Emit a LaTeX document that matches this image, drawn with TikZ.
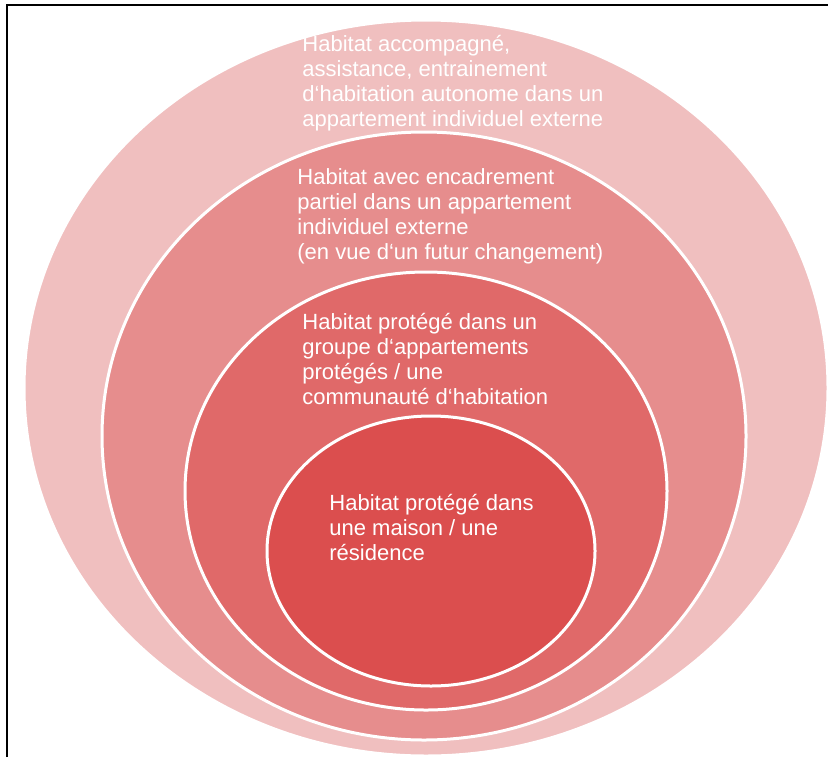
\documentclass[tikz,border=0pt]{standalone}
\usepackage{fontspec}
\usepackage{tikz}
\usepackage{xcolor}
\setmainfont{Liberation Sans}
\usetikzlibrary{positioning}

\definecolor{ringA}{RGB}{240,191,191}
\definecolor{ringB}{RGB}{230,141,141}
\definecolor{ringC}{RGB}{224,105,105}
\definecolor{ringD}{RGB}{219,78,78}

\begin{document}
\begin{tikzpicture}[x=0.5pt, y=0.5pt,
		ring/.style={draw=white, line width=1.5pt},
		ringtext/.style={anchor=base west, align=left, inner sep=0pt, text=white,
			font=\fontsize{11}{12.35}\selectfont}]
				\useasboundingbox (0, 0) rectangle (828, 757);
				\clip (0, 0) rectangle (828, 757);
				
				\begin{scope}[draw]
					\fill[white] (0, 0) rectangle (828, 757);
					\draw[-, black, line width={0.6pt}] (7, 0) to (7, 752) to (828, 752);
				\end{scope}
				
				\begin{scope}[ring]
					\filldraw[ring, fill=ringA] (426, 369) ellipse (402 and 368);
					\filldraw[ring, fill=ringB] (424, 321) ellipse (322 and 304);
					\filldraw[ring, fill=ringC] (426, 266) ellipse (241 and 219);
					\filldraw[ring, fill=ringD] (431, 206) ellipse (164 and 135);
				\end{scope}
				
				\node[ringtext] (accomp) at (302, 631) {Habitat accompagné,\\
					assistance, entrainement\\
					d‘habitation autonome dans un\\
					appartement individuel externe};
				\node[ringtext] (partiel) at (297, 498) {Habitat avec encadrement\\
					partiel dans un appartement\\
					individuel externe\\
					(en vue d‘un futur changement)};
				\node[ringtext] (groupe) at (302, 353) {Habitat protégé dans un\\
					groupe d‘appartements\\
					protégés / une\\
					communauté d‘habitation};
				\node[ringtext] (maison) at (329, 197) {Habitat protégé dans\\
					une maison / une\\
					résidence};
				
			\end{tikzpicture}
\end{document}
